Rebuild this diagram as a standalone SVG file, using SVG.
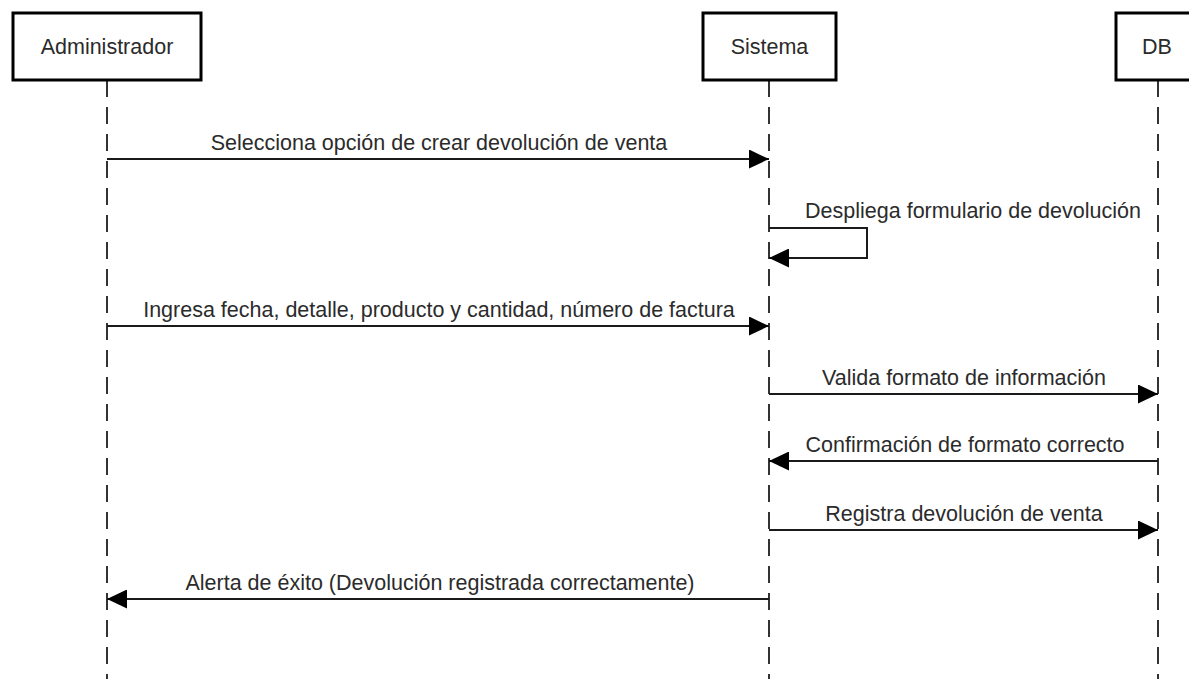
<svg xmlns="http://www.w3.org/2000/svg" width="1189" height="679" viewBox="0 0 1189 679">
  <defs>
    <style>
      .box { fill: #ffffff; stroke: #000000; stroke-width: 3; }
      .life { stroke: #333333; stroke-width: 2; stroke-dasharray: 17 10; fill: none; }
      .msg { stroke: #1a1a1a; stroke-width: 2; fill: none; marker-end: url(#arrow); }
      .lbl { font-family: "Liberation Sans", Arial, sans-serif; font-size: 21.5px; fill: #2b2b2b; text-anchor: middle; }
    </style>
    <marker id="arrow" markerUnits="userSpaceOnUse" markerWidth="20" markerHeight="19" refX="20" refY="9.5" orient="auto">
      <path d="M0,0 L20,9.5 L0,19 Z" fill="#000000"/>
    </marker>
  </defs>
  <rect width="1189" height="679" fill="#ffffff"/>

  <g id="lifelines">
    <line class="life" x1="107" y1="80" x2="107" y2="679"/>
    <line class="life" x1="769" y1="80" x2="769" y2="679"/>
    <line class="life" x1="1158" y1="80" x2="1158" y2="679"/>
  </g>

  <g id="node-administrador">
    <rect class="box" x="13" y="13" width="188" height="67"/>
    <text class="lbl" x="107" y="54">Administrador</text>
  </g>
  <g id="node-sistema">
    <rect class="box" x="703" y="13" width="133" height="67"/>
    <text class="lbl" x="769.5" y="54">Sistema</text>
  </g>
  <g id="node-db">
    <rect class="box" x="1116" y="13" width="84" height="67"/>
    <text class="lbl" x="1157" y="54">DB</text>
  </g>

  <g id="connectors">
    <line class="msg" x1="107" y1="159" x2="769" y2="159"/>
    <text class="lbl" x="439" y="150">Selecciona opción de crear devolución de venta</text>

    <path class="msg" d="M769,228 H867 V258 H769"/>
    <text class="lbl" x="973" y="218">Despliega formulario de devolución</text>

    <line class="msg" x1="107" y1="326" x2="769" y2="326"/>
    <text class="lbl" x="439" y="317">Ingresa fecha, detalle, producto y cantidad, número de factura</text>

    <line class="msg" x1="769" y1="394" x2="1158" y2="394"/>
    <text class="lbl" x="964" y="385">Valida formato de información</text>

    <line class="msg" x1="1158" y1="461" x2="769" y2="461"/>
    <text class="lbl" x="965" y="452">Confirmación de formato correcto</text>

    <line class="msg" x1="769" y1="530" x2="1158" y2="530"/>
    <text class="lbl" x="964" y="521">Registra devolución de venta</text>

    <line class="msg" x1="769" y1="599" x2="107" y2="599"/>
    <text class="lbl" x="440" y="590">Alerta de éxito (Devolución registrada correctamente)</text>
  </g>
</svg>
